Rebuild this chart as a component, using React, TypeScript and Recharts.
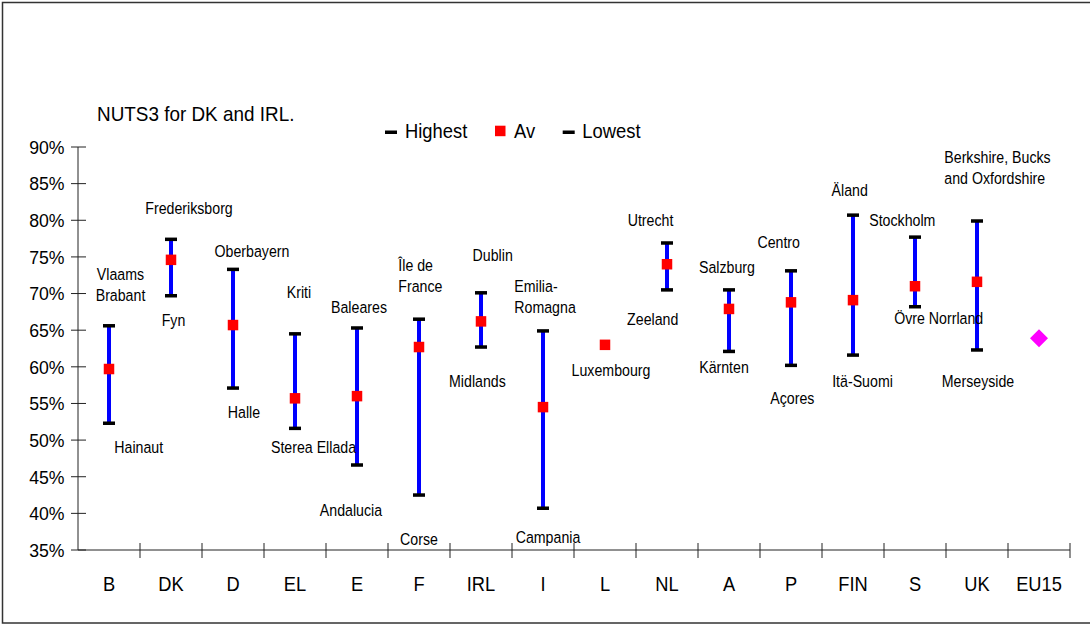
import React from 'react';
import { ComposedChart, Bar, Scatter, XAxis, YAxis, Legend } from 'recharts';

const FONT = "'Liberation Sans', Arial, Helvetica, sans-serif";

// ---------- data ----------
const categories = ['B', 'DK', 'D', 'EL', 'E', 'F', 'IRL', 'I', 'L', 'NL', 'A', 'P', 'FIN', 'S', 'UK', 'EU15'];
const highest = [65.6, 77.4, 73.3, 64.5, 65.3, 66.5, 70.1, 64.9, null, 76.9, 70.5, 73.1, 80.7, 77.7, 79.9, null];
const average = [59.7, 74.6, 65.7, 55.7, 56.0, 62.7, 66.2, 54.5, 63.0, 74.0, 67.9, 68.8, 69.1, 71.0, 71.6, null];
const lowest = [52.3, 69.7, 57.1, 51.6, 46.6, 42.5, 62.7, 40.7, null, 70.5, 62.1, 60.2, 61.6, 68.2, 62.3, null];
const eu15Average = [null, null, null, null, null, null, null, null, null, null, null, null, null, null, null, 63.9];

const highestRegion = [
  'Vlaams\nBrabant', 'Frederiksborg', 'Oberbayern', 'Kriti', 'Baleares', 'Île de\nFrance', 'Dublin',
  'Emilia-\nRomagna', '', 'Utrecht', 'Salzburg', 'Centro', 'Äland', 'Stockholm',
  'Berkshire, Bucks\nand Oxfordshire', '',
];
const lowestRegion = [
  'Hainaut', 'Fyn', 'Halle', 'Sterea Ellada', 'Andalucia', 'Corse', 'Midlands', 'Campania', '',
  'Zeeland', 'Kärnten', 'Açores', 'Itä-Suomi', 'Övre Norrland', 'Merseyside', '',
];
const averageRegion = ['', '', '', '', '', '', '', '', 'Luxembourg', '', '', '', '', '', '', ''];

const yTicks = [35, 40, 45, 50, 55, 60, 65, 70, 75, 80, 85, 90];

// ---------- label placement (pixel offsets from the mark, first line centre) ----------
const highLabelPos: [number, number, string][] = [
  [11.5, -52, 'middle'], [18, -31, 'middle'], [19, -18.5, 'middle'], [4, -41.5, 'middle'],
  [2, -20.5, 'middle'], [-20.7, -54.2, 'start'], [11.7, -37.3, 'middle'], [-28.7, -44.6, 'start'],
  [0, 0, 'middle'], [-16.5, -23.3, 'middle'], [-2, -23, 'middle'], [-12.3, -29, 'middle'],
  [-3.3, -25.2, 'middle'], [-12.7, -17.1, 'middle'], [-32.7, -64, 'start'], [0, 0, 'middle'],
];
const lowLabelPos: [number, number][] = [
  [29.7, 23.8], [2.5, 24.2], [11, 23.9], [18.5, 18.6], [-6, 44.7], [0, 44], [-3.6, 34.2], [5, 28.8],
  [0, 0], [-14.3, 29.6], [-5, 15.3], [1.3, 32.9], [9.5, 25.9], [23.7, 11.6], [1, 31], [0, 0],
];
const avgLabelPos: [number, number][] = categories.map((_, i) => (i === 8 ? [6, 25.2] : [0, 0]));

const data = categories.map((cat, i) => ({
  i,
  cat,
  high: highest[i],
  avg: average[i],
  low: lowest[i],
  eu: eu15Average[i],
  range: highest[i] != null && lowest[i] != null ? [lowest[i], highest[i]] : null,
}));

// ---------- layout ----------
const W = 1090;
const H = 625;
const M = { top: 147, right: 20, bottom: 35, left: 18 };
const Y_AXIS_W = 60;
const X_AXIS_H = 40;
const PLOT_W = W - M.left - M.right - Y_AXIS_W;
const BAND = PLOT_W / categories.length;
const LINE_H = 21;

const SText = ({ x, y, sx, size, anchor = 'start', children }: any) => (
  <text
    transform={`translate(${x},${y}) scale(${sx},1)`}
    x={0}
    y={0}
    dy="0.36em"
    fontSize={size}
    fontFamily={FONT}
    textAnchor={anchor}
    fill="#000"
  >
    {children}
  </text>
);

const MultiLabel = ({ x, y, text, anchor }: any) => {
  const lines = String(text).split('\n');
  return (
    <g>
      {lines.map((ln, k) => (
        <SText key={k} x={x} y={y + k * LINE_H} sx={0.86} size={16.5} anchor={anchor}>
          {ln}
        </SText>
      ))}
    </g>
  );
};

const valid = (v: any) => v !== null && v !== undefined && !Number.isNaN(v);

const HighShape = (props: any) => {
  const { cx, cy, payload } = props;
  if (!payload || !valid(payload.high) || !valid(cx) || !valid(cy)) return <g />;
  const i = payload.i;
  const [dx, dy, anchor] = highLabelPos[i];
  return (
    <g>
      <rect x={cx - 6} y={cy - 1.75} width={12} height={3.5} fill="#000" />
      {highestRegion[i] ? <MultiLabel x={cx + dx} y={cy + dy} text={highestRegion[i]} anchor={anchor} /> : null}
    </g>
  );
};

const LowShape = (props: any) => {
  const { cx, cy, payload } = props;
  if (!payload || !valid(payload.low) || !valid(cx) || !valid(cy)) return <g />;
  const i = payload.i;
  const [dx, dy] = lowLabelPos[i];
  return (
    <g>
      <rect x={cx - 6} y={cy - 1.75} width={12} height={3.5} fill="#000" />
      {lowestRegion[i] ? <MultiLabel x={cx + dx} y={cy + dy} text={lowestRegion[i]} anchor="middle" /> : null}
    </g>
  );
};

const AvgShape = (props: any) => {
  const { cx, cy, payload } = props;
  if (!payload || !valid(payload.avg) || !valid(cx) || !valid(cy)) return <g />;
  const i = payload.i;
  const [dx, dy] = avgLabelPos[i];
  return (
    <g>
      <rect x={cx - 5.25} y={cy - 5.25} width={10.5} height={10.5} fill="#FF0000" />
      {averageRegion[i] ? <MultiLabel x={cx + dx} y={cy + dy} text={averageRegion[i]} anchor="middle" /> : null}
    </g>
  );
};

const DiamondShape = (props: any) => {
  const { cx, cy, payload } = props;
  if (!payload || !valid(payload.eu) || !valid(cx) || !valid(cy)) return <g />;
  const r = 9;
  return <polygon points={`${cx},${cy - r} ${cx + r},${cy} ${cx},${cy + r} ${cx - r},${cy}`} fill="#FF00FF" />;
};

const YTick = (props: any) => {
  const { x, y, payload } = props;
  return (
    <g>
      <line x1={x - 7} x2={x + 8} y1={y} y2={y} stroke="#222" strokeWidth={1} />
      <SText x={x - 13.5} y={y} sx={0.93} size={19} anchor="end">{`${payload.value}%`}</SText>
    </g>
  );
};

const XTick = (props: any) => {
  const { x, y, payload, index } = props;
  const left = x - BAND / 2;
  const right = x + BAND / 2;
  return (
    <g>
      {index > 0 ? <line x1={left} x2={left} y1={y - 7} y2={y + 8} stroke="#222" strokeWidth={1} /> : null}
      {index === categories.length - 1 ? (
        <line x1={right} x2={right} y1={y - 7} y2={y + 8} stroke="#222" strokeWidth={1} />
      ) : null}
      <SText x={x} y={y + 33} sx={0.87} size={21} anchor="middle">
        {payload.value}
      </SText>
    </g>
  );
};

const LegendContent = () => (
  <svg width={280} height={32} style={{ display: 'block', overflow: 'visible' }}>
    <rect x={5} y={14.5} width={12} height={3.5} fill="#000" />
    <SText x={25} y={14.5} sx={0.875} size={21}>Highest</SText>
    <rect x={115} y={9.7} width={10.5} height={10.5} fill="#FF0000" />
    <SText x={134} y={14.5} sx={0.875} size={21}>Av</SText>
    <rect x={182.7} y={14.5} width={12} height={3.5} fill="#000" />
    <SText x={202.3} y={14.5} sx={0.875} size={21}>Lowest</SText>
  </svg>
);

export default function App() {
  return (
    <div style={{ position: 'absolute', left: 0, top: 0, width: W, height: H, background: '#fff' }}>
      <ComposedChart width={W} height={H} data={data} margin={M}>
        <XAxis
          dataKey="cat"
          type="category"
          interval={0}
          height={X_AXIS_H}
          tickSize={0}
          tickMargin={0}
          tickLine={false}
          axisLine={{ stroke: '#222', strokeWidth: 1 }}
          tick={<XTick />}
        />
        <YAxis
          type="number"
          domain={[35, 90]}
          ticks={yTicks}
          interval={0}
          width={Y_AXIS_W}
          tickSize={0}
          tickMargin={0}
          tickLine={false}
          axisLine={{ stroke: '#222', strokeWidth: 1 }}
          tick={<YTick />}
        />
        <Legend
          layout="horizontal"
          verticalAlign="middle"
          align="center"
          content={() => <LegendContent />}
          wrapperStyle={{ position: 'absolute', left: 380, top: 116, width: 280, height: 32 }}
        />
        <Bar dataKey="range" barSize={4} fill="#0000FF" isAnimationActive={false} legendType="none" />
        <Scatter dataKey="high" shape={(p: any) => <HighShape {...p} />} isAnimationActive={false} />
        <Scatter dataKey="low" shape={(p: any) => <LowShape {...p} />} isAnimationActive={false} />
        <Scatter dataKey="avg" shape={(p: any) => <AvgShape {...p} />} isAnimationActive={false} />
        <Scatter dataKey="eu" shape={(p: any) => <DiamondShape {...p} />} isAnimationActive={false} />
      </ComposedChart>
      <svg
        width={W}
        height={H}
        style={{ position: 'absolute', left: 0, top: 0, pointerEvents: 'none' }}
      >
        <rect x={2.5} y={2.5} width={1100} height={620.5} fill="none" stroke="#333" strokeWidth={1.5} />
        <SText x={97} y={113} sx={0.9} size={21}>NUTS3 for DK and IRL.</SText>
      </svg>
    </div>
  );
}
